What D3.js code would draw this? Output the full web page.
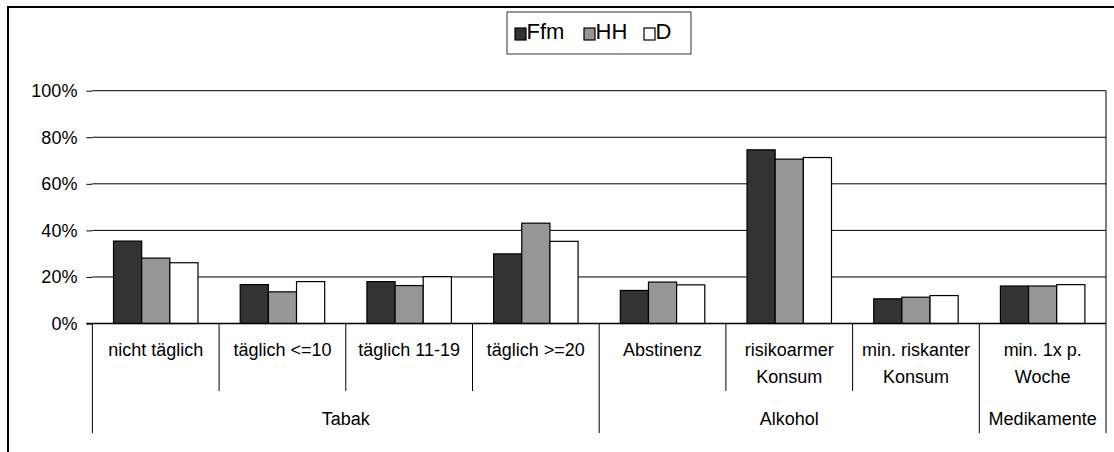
<!DOCTYPE html>
<html>
<head>
<meta charset="utf-8">
<script src="https://cdn.jsdelivr.net/npm/d3@7"></script>
<style>
  body { margin: 0; background: #fff; }
  svg { display: block; font-family: Arial, "Liberation Sans", sans-serif; }
</style>
</head>
<body>
<script>
"use strict";

// categories (lines split by \n), their groups, and series
var categories = ["nicht täglich", "täglich <=10", "täglich 11-19", "täglich >=20",
                  "Abstinenz", "risikoarmer\nKonsum", "min. riskanter\nKonsum", "min. 1x p.\nWoche"];
var groups = [
  { name: "Tabak", from: 0, to: 3 },
  { name: "Alkohol", from: 4, to: 6 },
  { name: "Medikamente", from: 7, to: 7 }
];
var seriesNames = ["Ffm", "HH", "D"];
var seriesColors = ["#333333", "#969696", "#ffffff"];

var ffm = [35.4, 16.7, 18.0, 29.9, 14.2, 74.6, 10.6, 16.1];
var hh  = [28.1, 13.6, 16.3, 43.1, 17.8, 70.6, 11.3, 16.1];
var dd  = [26.1, 18.0, 20.1, 35.3, 16.6, 71.3, 12.0, 16.7];
var seriesValues = [ffm, hh, dd];

var yTicks = [0, 20, 40, 60, 80, 100];

function mainChart(){
  var width = 1114,
      height = 452;

  var svg = d3.select("body")
    .append("svg")
    .attr("width", width)
    .attr("height", height);

  var left = 92.4, right = 1106, top = 90.7, bottom = 323.5;

  var x = d3.scaleBand()
    .domain(d3.range(categories.length))
    .range([left, right])
    .paddingInner(0)
    .paddingOuter(0);

  var xs = d3.scaleBand()
    .domain(d3.range(seriesNames.length))
    .range([0, x.bandwidth()])
    .paddingInner(0)
    .paddingOuter(0.75);

  var y = d3.scaleLinear()
    .domain([0, 100])
    .range([bottom, top]);

  // outer frame (cropped at right and bottom)
  svg.append("path")
    .attr("d", "M8," + (height + 5) + "V7H" + (width + 5))
    .attr("fill", "none")
    .attr("stroke", "#000")
    .attr("stroke-width", 2);

  // gridlines
  svg.append("g")
    .selectAll("line")
    .data(yTicks.filter(function(d){ return d > 0; }))
    .enter().append("line")
      .attr("x1", left)
      .attr("x2", right)
      .attr("y1", function(d){ return y(d); })
      .attr("y2", function(d){ return y(d); })
      .attr("stroke", "#000")
      .attr("stroke-width", 1);

  // right plot border
  svg.append("line")
    .attr("x1", right).attr("x2", right)
    .attr("y1", top).attr("y2", bottom)
    .attr("stroke", "#000");

  // y axis
  var yAxis = d3.axisLeft(y)
    .tickValues(yTicks)
    .tickSize(6)
    .tickPadding(9)
    .tickFormat(function(d){ return d + "%"; });

  var ya = svg.append("g")
    .attr("transform", "translate(" + left + ",0)")
    .call(yAxis);
  ya.select(".domain").remove();
  ya.selectAll(".tick line").attr("stroke", "#000");
  ya.selectAll(".tick text")
    .attr("fill", "#000")
    .style("font-size", "18px")
    .style("font-family", "Arial, 'Liberation Sans', sans-serif");

  // bars
  var catG = svg.append("g")
    .selectAll("g")
    .data(categories)
    .enter().append("g")
      .attr("transform", function(d, i){ return "translate(" + x(i) + ",0)"; });

  catG.selectAll("rect")
    .data(function(d, i){ return seriesValues.map(function(s, k){ return { k: k, v: s[i] }; }); })
    .enter().append("rect")
      .attr("x", function(d){ return xs(d.k); })
      .attr("width", xs.bandwidth())
      .attr("y", function(d){ return y(d.v); })
      .attr("height", function(d){ return y(0) - y(d.v); })
      .attr("fill", function(d){ return seriesColors[d.k]; })
      .attr("stroke", "#000")
      .attr("stroke-width", 1.2);

  // x axis baseline
  svg.append("line")
    .attr("x1", left - 6).attr("x2", right)
    .attr("y1", bottom).attr("y2", bottom)
    .attr("stroke", "#000")
    .attr("stroke-width", 1.3);

  // category separators (short) and group separators (long)
  var row1Bottom = 391, row2Bottom = 433;
  var groupEdges = [0];
  groups.forEach(function(g){ groupEdges.push(g.to + 1); });

  svg.append("g")
    .selectAll("line")
    .data(d3.range(categories.length + 1))
    .enter().append("line")
      .attr("x1", function(i){ return i < categories.length ? x(i) : right; })
      .attr("x2", function(i){ return i < categories.length ? x(i) : right; })
      .attr("y1", bottom)
      .attr("y2", function(i){ return groupEdges.indexOf(i) >= 0 ? row2Bottom : row1Bottom; })
      .attr("stroke", "#000")
      .attr("stroke-width", 1);

  // category labels
  var lab = svg.append("g")
    .selectAll("text")
    .data(categories)
    .enter().append("text")
      .attr("x", function(d, i){ return x(i) + x.bandwidth() / 2; })
      .attr("y", 356)
      .attr("text-anchor", "middle")
      .style("font-size", "18px")
      .attr("fill", "#000");

  lab.selectAll("tspan")
    .data(function(d){ return d.split("\n"); })
    .enter().append("tspan")
      .attr("x", function(){ return d3.select(this.parentNode).attr("x"); })
      .attr("dy", function(d, j){ return j === 0 ? 0 : 27; })
      .text(function(d){ return d; });

  // group labels
  svg.append("g")
    .selectAll("text")
    .data(groups)
    .enter().append("text")
      .attr("x", function(g){ return (x(g.from) + (g.to + 1 < categories.length ? x(g.to + 1) : right)) / 2; })
      .attr("y", 425)
      .attr("text-anchor", "middle")
      .style("font-size", "18px")
      .attr("fill", "#000")
      .text(function(g){ return g.name; });

  // legend
  var legend = svg.append("g");
  legend.append("rect")
    .attr("x", 507).attr("y", 12)
    .attr("width", 184).attr("height", 42)
    .attr("fill", "#fff")
    .attr("stroke", "#333")
    .attr("stroke-width", 1);

  var legendX = [515, 584, 644];
  var item = legend.selectAll("g.item")
    .data(seriesNames)
    .enter().append("g")
      .attr("class", "item")
      .attr("transform", function(d, i){ return "translate(" + legendX[i] + ",0)"; });

  item.append("rect")
    .attr("x", 0).attr("y", 28)
    .attr("width", 11).attr("height", 12)
    .attr("fill", function(d, i){ return seriesColors[i]; })
    .attr("stroke", "#000")
    .attr("stroke-width", 1.2);

  item.append("text")
    .attr("x", 11.5)
    .attr("y", 38.5)
    .style("font-size", "22px")
    .attr("fill", "#000")
    .text(function(d){ return d; });
}

mainChart();
</script>
</body>
</html>
